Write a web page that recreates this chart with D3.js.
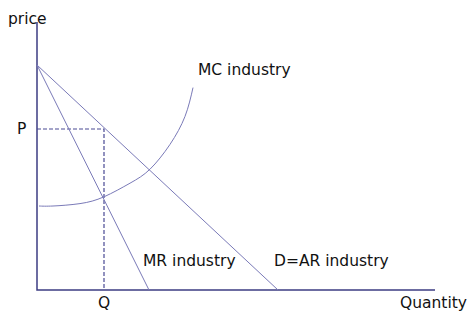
<!DOCTYPE html>
<html>
<head>
<meta charset="utf-8">
<script src="https://cdn.jsdelivr.net/npm/d3@7"></script>
<style>
	html, body { margin: 0; padding: 0; background: #fff; }
	text { font-family: "DejaVu Sans", sans-serif; font-size: 15.5px; fill: #111; }
</style>
</head>
<body>
<svg id="chart" width="470" height="316"></svg>
<script>
	'use strict';

	// values (arbitrary units, 0..100 quantity, 0..67 price)
	var axisMax = [99.5, 67];
	var demand = [[0, 56.25], [60.25, 0]];
	var marginalRevenue = [[0, 56.25], [28, 0]];
	var marginalCost = [[0.5, 21], [4, 21], [10.75, 21.6], [16.75, 23.3], [23.25, 26.7],
		[28.25, 30.2], [33.25, 36.4], [37, 43.4], [39, 50.6]];
	var equilibrium = [16.75, 40.25];

	var labels = [
		{ text: 'price', at: [-7.25, 66.5] },
		{ text: 'P', at: [-5, 39] },
		{ text: 'Q', at: [15.25, -4.6] },
		{ text: 'Quantity', at: [90.75, -4.6] },
		{ text: 'MC industry', at: [40.25, 53.75] },
		{ text: 'MR industry', at: [26.5, 6] },
		{ text: 'D=AR industry', at: [59.25, 6] }
	];

	var chart = d3.select('#chart');
	var x = d3.scaleLinear().domain([0, 100]).range([37, 437]);
	var y = d3.scaleLinear().domain([0, 67]).range([290, 22]);

	var line = d3.line()
		.x(function(d) { return x(d[0]); })
		.y(function(d) { return y(d[1]); });

	// axes
	chart.append('path')
		.attr('d', line([[0, axisMax[1]], [0, 0], [axisMax[0], 0]]))
		.attr('fill', 'none')
		.attr('stroke', '#3c3c82')
		.attr('stroke-width', 1.5);

	// dashed guide to P and Q
	chart.append('path')
		.attr('d', line([[0, equilibrium[1]], [equilibrium[0], equilibrium[1]], [equilibrium[0], 0]]))
		.attr('fill', 'none')
		.attr('stroke', '#4a4a94')
		.attr('stroke-width', 1.2)
		.attr('stroke-dasharray', '4,2');

	[demand, marginalRevenue].forEach(function(d) {
		chart.append('path')
			.attr('d', line(d))
			.attr('fill', 'none')
			.attr('stroke', '#7a7ab8')
			.attr('stroke-width', 1);
	});

	chart.append('path')
		.attr('d', line.curve(d3.curveNatural)(marginalCost))
		.attr('fill', 'none')
		.attr('stroke', '#7a7ab8')
		.attr('stroke-width', 1);

	chart.selectAll('text.label')
		.data(labels)
		.enter().append('text')
		.attr('class', 'label')
		.attr('x', function(d) { return x(d.at[0]); })
		.attr('y', function(d) { return y(d.at[1]); })
		.text(function(d) { return d.text; });
</script>
</body>
</html>
